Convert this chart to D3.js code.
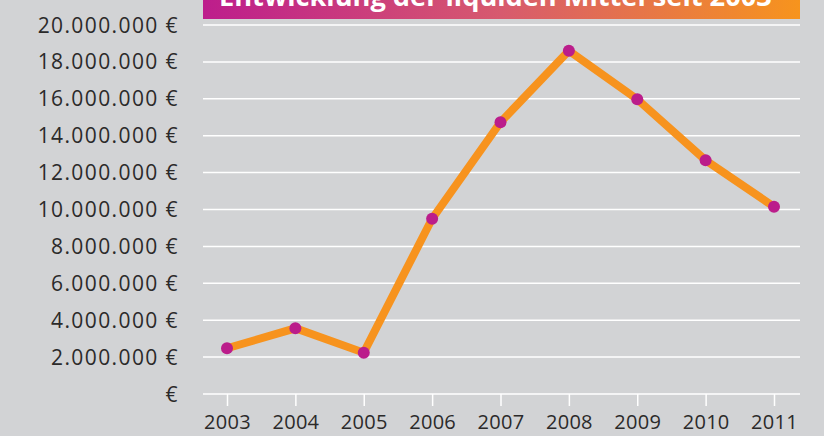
<!DOCTYPE html>
<html>
<head>
<meta charset="utf-8">
<script src="https://cdn.jsdelivr.net/npm/d3@7"></script>
<style>
  html, body { margin: 0; padding: 0; background: #d2d3d5; overflow: hidden; }
  svg { display: block; }
</style>
</head>
<body>
<svg id="chart"></svg>
<script>
/*
  Liquide Mittel line chart
*/

var years = ["2003", "2004", "2005", "2006", "2007", "2008", "2009", "2010", "2011"],
    values = [2480000, 3560000, 2240000, 9500000, 14730000, 18610000, 15970000, 12670000, 10150000],
    yTicks = [0, 2000000, 4000000, 6000000, 8000000, 10000000, 12000000, 14000000, 16000000, 18000000, 20000000],
    title = "Entwicklung der liquiden Mittel seit 2003";

var width = 824, height = 436,
    plot = {left: 203, right: 800, top: 25, bottom: 394},
    lineColor = "#f7931e",
    dotColor = "#bb1d8b",
    textColor = "#2b2a2a",
    font = "'Open Sans', sans-serif";

var svg = d3.select("#chart")
  .attr("width", width)
  .attr("height", height);

svg.append("rect")
  .attr("width", width)
  .attr("height", height)
  .attr("fill", "#d2d3d5");

var x = d3.scalePoint().domain(years).range([227, 774]);
var y = d3.scaleLinear().domain([0, 20000000]).range([plot.bottom, plot.top]);

//Title banner
var grad = svg.append("defs").append("linearGradient")
  .attr("id", "banner")
  .attr("x1", "0%").attr("x2", "100%");
grad.append("stop").attr("offset", "0%").attr("stop-color", "#bd1d8c");
grad.append("stop").attr("offset", "50%").attr("stop-color", "#d75a6e");
grad.append("stop").attr("offset", "100%").attr("stop-color", "#f7941d");

svg.append("rect")
  .attr("x", plot.left)
  .attr("y", -10)
  .attr("width", plot.right - plot.left)
  .attr("height", 29)
  .attr("fill", "url(#banner)");

var titleText = svg.append("text")
  .attr("x", 219)
  .attr("y", 6)
  .style("font-family", font)
  .style("font-weight", "bold")
  .style("font-size", "100px")
  .attr("fill", "#fff")
  .text(title);
var tw = titleText.node().getComputedTextLength();
titleText.style("font-size", (100 * 553 / tw) + "px");

//Grid lines
svg.append("g")
  .selectAll("line")
  .data(yTicks)
  .enter().append("line")
    .attr("x1", plot.left)
    .attr("x2", plot.right)
    .attr("y1", function(d) { return y(d); })
    .attr("y2", function(d) { return y(d); })
    .attr("stroke", "#fff")
    .attr("stroke-width", 1.5);

//Y labels
function euro(d) {
  if(d == 0) return "€";
  return d3.format(",")(d).replace(/,/g, ".") + " €";
}

svg.append("g")
  .selectAll("text")
  .data(yTicks)
  .enter().append("text")
    .attr("x", 179)
    .attr("y", function(d) { return y(d); })
    .attr("dy", "0.36em")
    .attr("text-anchor", "end")
    .style("font-family", font)
    .style("font-size", "21px")
    .style("letter-spacing", "1.4px")
    .attr("fill", textColor)
    .text(euro);

//X axis
var xAxis = svg.append("g")
  .attr("transform", "translate(0," + plot.bottom + ")")
  .call(d3.axisBottom(x).tickSize(12).tickPadding(9));
xAxis.select(".domain").remove();
xAxis.selectAll("line").attr("stroke", "#fff").attr("stroke-width", 1.5);
xAxis.selectAll("text")
  .style("font-family", font)
  .style("font-size", "20px")
  .style("letter-spacing", "0.3px")
  .attr("fill", textColor);

//Line + points
var line = d3.line()
  .x(function(d, i) { return x(years[i]); })
  .y(function(d) { return y(d); });

svg.append("path")
  .datum(values)
  .attr("d", line)
  .attr("fill", "none")
  .attr("stroke", lineColor)
  .attr("stroke-width", 8)
  .attr("stroke-linejoin", "miter");

svg.append("g")
  .selectAll("circle")
  .data(values)
  .enter().append("circle")
    .attr("cx", function(d, i) { return x(years[i]); })
    .attr("cy", function(d) { return y(d); })
    .attr("r", 6)
    .attr("fill", dotColor);
</script>
</body>
</html>
